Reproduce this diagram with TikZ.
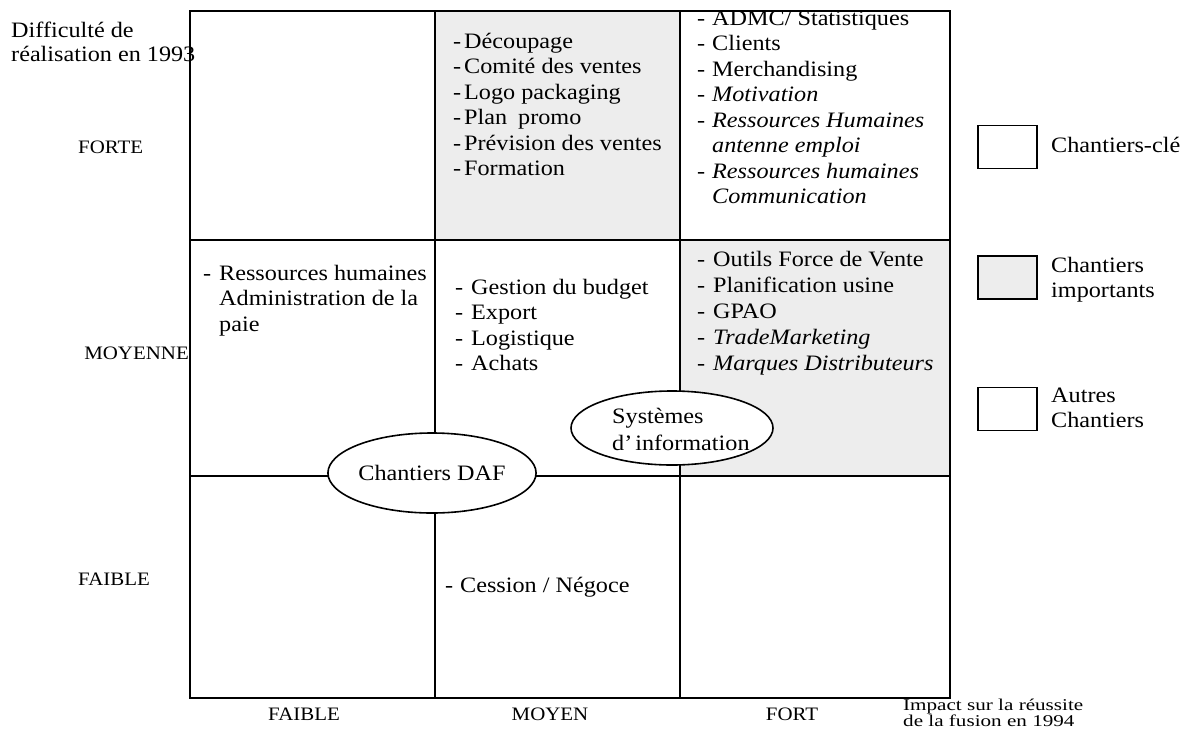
\documentclass[tikz,border=0pt]{standalone}
\usepackage{fontspec}
\setmainfont{Liberation Serif}[FakeStretch=1.1]
\newfontfamily\widefont{Liberation Serif}[FakeStretch=1.28]
\usetikzlibrary{shapes.geometric}
\newcommand{\cellsize}{\fontsize{22}{25.5}\selectfont}
\newcommand{\axsize}{\fontsize{19}{22}\selectfont}
\newcommand{\imsize}{\widefont\fontsize{16.5}{15}\selectfont}
\newcommand{\dsh}[1]{\makebox[#1][l]{-}}
\tikzset{
  gridline/.style={line width=1.6pt},
  shadecell/.style={fill=black!7},
  celltext/.style={anchor=north west, inner sep=0pt, font=\cellsize},
  axislabel/.style={inner sep=0pt, font=\axsize},
  blob/.style={ellipse, draw, line width=1.6pt, fill=white, inner sep=0pt, font=\cellsize},
  legendbox/.style={draw, line width=1.6pt, minimum width=59pt, minimum height=43pt, inner sep=0pt}
}
\begin{document}
\begin{tikzpicture}[x=1pt,y=-1pt]
\useasboundingbox (0,0) rectangle (1196,728);
% shaded cells
\fill[shadecell] (435,11) rectangle (680,240);
\fill[shadecell] (680,240) rectangle (950,476);
% grid
\draw[gridline] (190,11) rectangle (950,698);
\draw[gridline] (190,240) -- (950,240);
\draw[gridline] (190,476) -- (950,476);
\draw[gridline] (435,11) -- (435,698);
\draw[gridline] (680,11) -- (680,698);
% axis title
\node[celltext] (ytitle) at (11,19.15) {\begin{tabular}{@{}l@{}}Difficulté de\\[-1.5pt]réalisation en 1993\end{tabular}};
% row labels
\node[axislabel, anchor=base west] (forte) at (78,153) {FORTE};
\node[axislabel, anchor=base east] (moyenne) at (189,359) {MOYENNE};
\node[axislabel, anchor=base west] (faibley) at (78,585) {FAIBLE};
% column labels
\node[axislabel, anchor=base] (faiblex) at (304,720) {FAIBLE};
\node[axislabel, anchor=base] (moyen) at (550,720) {MOYEN};
\node[axislabel, anchor=base] (fort) at (792,720) {FORT};
\node[anchor=north west, inner sep=0pt, font=\imsize] (xtitle) at (903,698.5) {\begin{tabular}{@{}l@{}}Impact sur la réussite\\de la fusion en 1994\end{tabular}};
% cell texts
\node[celltext] (c12) at (453,30.15) {\begin{tabular}{@{}l@{}l@{}}
\dsh{11pt}&Découpage\\
\dsh{11pt}&Comité des ventes\\
\dsh{11pt}&Logo packaging\\
\dsh{11pt}&Plan\hspace{0.5em}promo\\
\dsh{11pt}&Prévision des ventes\\
\dsh{11pt}&Formation
\end{tabular}};
\node[celltext] (c13) at (697,7.15) {\begin{tabular}{@{}l@{}l@{}}
\dsh{15pt}&ADMC/ Statistiques\\
\dsh{15pt}&Clients\\
\dsh{15pt}&Merchandising\\
\dsh{15pt}&\textit{Motivation}\\
\dsh{15pt}&\textit{Ressources Humaines}\\
&\textit{antenne emploi}\\
\dsh{15pt}&\textit{Ressources humaines}\\
&\textit{Communication}
\end{tabular}};
\node[celltext] (c21) at (203,262.15) {\begin{tabular}{@{}l@{}l@{}}
\dsh{16pt}&Ressources humaines\\
&Administration de la\\
&paie
\end{tabular}};
\node[celltext] (c22) at (455,276.15) {\begin{tabular}{@{}l@{}l@{}}
\dsh{16pt}&Gestion du budget\\
\dsh{16pt}&Export\\
\dsh{16pt}&Logistique\\
\dsh{16pt}&Achats
\end{tabular}};
\node[celltext] (c23) at (697,248.15) {\begin{tabular}{@{}l@{}l@{}}
\dsh{16pt}&Outils Force de Vente\\[0.5pt]
\dsh{16pt}&Planification usine\\[0.5pt]
\dsh{16pt}&GPAO\\[0.5pt]
\dsh{16pt}&\textit{TradeMarketing}\\[0.5pt]
\dsh{16pt}&\textit{Marques Distributeurs}
\end{tabular}};
\node[celltext] (c32) at (445,574.15) {\begin{tabular}{@{}l@{}l@{}}
\dsh{15pt}&Cession / Négoce
\end{tabular}};
% ellipses
\node[blob, minimum width=199pt, minimum height=80pt] (daf) at (432,473) {Chantiers DAF};
\node[blob, minimum width=202pt, minimum height=74pt] (si) at (672,428) {};
\node[celltext] (sitext) at (612,405.15) {\begin{tabular}{@{}l@{}}Systèmes\\[1.5pt]d'\hspace{3pt}information\end{tabular}};
% legend
\node[legendbox] (lk1) at (1007.5,147) {};
\node[legendbox, shadecell] (lk2) at (1007.5,277.5) {};
\node[legendbox] (lk3) at (1007.5,409) {};
\node[celltext, anchor=base west] (lt1) at (1051,152) {Chantiers-clé};
\node[celltext] (lt2) at (1051,254.15) {\begin{tabular}{@{}l@{}}Chantiers\\importants\end{tabular}};
\node[celltext] (lt3) at (1051,384.15) {\begin{tabular}{@{}l@{}}Autres\\Chantiers\end{tabular}};
\end{tikzpicture}
\end{document}
